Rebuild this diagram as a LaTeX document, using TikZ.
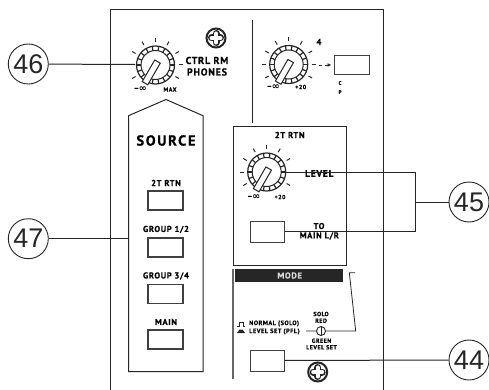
\documentclass[tikz,border=0pt]{standalone}
\usepackage{fontspec}
\usetikzlibrary{arrows.meta}
\setmainfont{Liberation Sans}
\newfontfamily\lab[LetterSpace=8,FakeBold=0.6]{PT Sans Bold}
\newfontfamily\labw[LetterSpace=12,FakeBold=0.6]{PT Sans Bold}
\newfontfamily\symf{DejaVu Sans Bold}
\colorlet{ink}{black!85}
\tikzset{
  panel/.style={draw=ink,line width=1pt},
  conn/.style={draw=ink,line width=1pt},
  callout/.style={circle,draw=ink,line width=0.9pt,minimum size=40pt,inner sep=0pt,font=\fontsize{27}{27}\selectfont,text=ink,fill=white},
  btn/.style={draw=black!75,line width=1.2pt,fill=white,inner sep=0pt},
  txt/.style={text=black,inner sep=0pt,font=\lab\fontsize{#1}{#1}\selectfont},
  txt/.default=8.5,
  inf/.style={inner sep=0pt,text=black,font=\symf\fontsize{9.5}{9.5}\selectfont},
  knob/.pic={
    \foreach \a in {210,180,150,120,90,60,30,0,-30}
      \draw[ink,line width=1pt] (\a:23pt) -- (\a:27pt);
    \draw[ink,line width=1.2pt,fill=white] (0,0) circle (19pt);
    \draw[ink,line width=1pt] (0,0) circle (14.5pt);
    \foreach \a in {0,20,...,340}
      \draw[ink,line width=1.2pt] (\a:14.5pt) -- (\a:19pt);
    \draw[ink,line width=1pt,fill=white,rotate=240] (-4pt,-3.2pt) rectangle (21pt,3.2pt);
  },
  screw/.pic={
    \draw[ink,line width=2pt,fill=white] (0,0) circle (9.5pt);
    \draw[ink,line width=7pt,line cap=round] (-4.5pt,0) -- (4.5pt,0) (0,-4.5pt) -- (0,4.5pt);
    \draw[white,line width=4pt,line cap=round] (-4.5pt,0) -- (4.5pt,0) (0,-4.5pt) -- (0,4.5pt);
  }
}
\begin{document}
\begin{tikzpicture}[x=1pt,y=-1pt]
\useasboundingbox[fill=white] (0,0) rectangle (489,390);
% panel
\draw[panel] (110.5,390) -- (110.5,10) -- (383,10) -- (383,390);
\draw[panel] (252,20) -- (252,123);
\draw[panel] (128.5,115.7) -- (166,99.5) -- (203,115.7) -- (203,371.5) -- (128.5,371.5) -- cycle;
\draw[panel] (233.5,126.5) rectangle (346.5,265.5);
\draw[draw=black!60,line width=1.3pt] (233,269) -- (233,379);
\node[fill=black!85,minimum width=108pt,minimum height=13pt,inner sep=0pt,anchor=north west] (modebar) at (235,269) {};
\node[txt=8.5,text=white!85!black] (mode) at (289.7,275.5) {MODE};
% knobs
\coordinate (k1) at (155.5,65);
\coordinate (k2) at (288.7,64.5);
\coordinate (k3) at (266.7,172);
\pic at (k1) {knob};
\pic at (k2) {knob};
\pic at (k3) {knob};
\pic at (216,38) {screw};
\pic at (317.7,372) {screw};
% buttons
\foreach \n/\y in {a/200.5,b/247.5,c/294,d/339.5}
  \node[btn,minimum width=35pt,minimum height=19pt] (\n) at (165.5,\y) {};
\node[btn,minimum width=35pt,minimum height=19pt] (top) at (352,65) {};
\node[btn,line width=1pt,minimum width=34pt,minimum height=21pt] (tomain) at (267,231.5) {};
\node[btn,line width=1pt,minimum width=34pt,minimum height=21pt] (modebtn) at (267,360.5) {};
% labels
\node[txt=10] (t1) at (207,60.5) {CTRL RM};
\node[txt=10] (t2) at (207,72) {PHONES};
\node[inf] (t3) at (140.5,89) {–∞};
\node[txt=6] (t4) at (170,89.5) {MAX};
\node[text=black,inner sep=0pt,font=\labw\fontsize{14.5}{14.5}\selectfont] (t5) at (166,140.5) {SOURCE};
\node[txt=8.5] (t6) at (166,183) {2T RTN};
\node[txt=8.5] (t7) at (166,229.5) {GROUP 1/2};
\node[txt=8.5] (t8) at (166,276) {GROUP 3/4};
\node[txt=8.5] (t9) at (166,322) {MAIN};
\node[txt=9] (t10) at (319,42) {4};
\node[txt=5] (t11) at (340,83) {C};
\node[txt=5] (t12) at (340,92) {P};
\node[inf] (t13) at (273.5,87) {–∞};
\node[txt=6] (t14) at (300.7,87) {+20};
\node[txt=8.5] (t15) at (289.7,135) {2T RTN};
\node[inf] (t16) at (254,197) {–∞};
\node[txt=6] (t17) at (280,197) {+20};
\node[txt=9.5] (t18) at (319.3,173.5) {LEVEL};
\node[txt=8.5] (t19) at (319,226) {TO};
\node[txt=8.5] (t20) at (319.3,236) {MAIN L/R};
\node[txt=6.3,anchor=west] (t21) at (249,323.5) {NORMAL (SOLO)};
\node[txt=6.3,anchor=west] (t22) at (249,331.5) {LEVEL SET (PFL)};
\node[txt=6] (t23) at (321,314) {SOLO};
\node[txt=6] (t24) at (321,320.7) {RED};
\node[txt=6] (t25) at (321.5,340.7) {GREEN};
\node[txt=6] (t26) at (321.5,347.3) {LEVEL SET};
% switch symbols
\draw[ink,line width=0.8pt] (237,326) -- (239,326) -- (239,322) -- (243.5,322) -- (243.5,326) -- (245,326);
\fill[ink] (237,333) -- (239.5,329.5) -- (242.5,329.5) -- (245,333) -- cycle;
% LED and its lines
\node[circle,draw=ink,line width=0.9pt,fill=white,minimum size=9pt,inner sep=0pt] (led) at (321,331) {};
\draw[ink,line width=0.8pt] (led.north) -- (led.south);
\coordinate (l0) at (306,331);
\coordinate (l1) at (355.7,331);
\coordinate (l2) at (349.3,272.7);
\coordinate (l3) at (355,272.7);
\draw[conn,line width=0.8pt] (l0) -- (led) (led) -- (l1) -- (l2) -- (l3);
% top arrow
\coordinate (a0) at (319,65);
\coordinate (a1) at (322,65);
\coordinate (a2) at (324.5,65);
\coordinate (a3) at (331.5,65);
\draw[ink,line width=0.9pt] (a0) -- (a1);
\draw[ink,line width=0.8pt,-{Latex[length=4pt,width=4pt]}] (a2) -- (a3);
% callouts
\node[callout] (n46) at (28.3,64) {46};
\node[callout] (n47) at (28.3,238.7) {47};
\node[callout] (n45) at (469,202) {45};
\node[callout] (n44) at (469,360) {44};
\coordinate (e46) at (135,64.5);
\coordinate (e47) at (128.5,238.7);
\coordinate (e45a) at (286,172.5);
\coordinate (c45a) at (415.3,172.5);
\coordinate (c45b) at (415.3,231.5);
\coordinate (c45m) at (415.3,202);
\draw[conn] (n46) -- (e46);
\draw[conn] (n47) -- (e47);
\draw[conn] (e45a) -- (c45a) -- (c45b) -- (tomain.east |- c45b);
\draw[conn] (c45m) -- (n45);
\draw[conn] (modebtn) -- (n44);
\end{tikzpicture}
\end{document}
